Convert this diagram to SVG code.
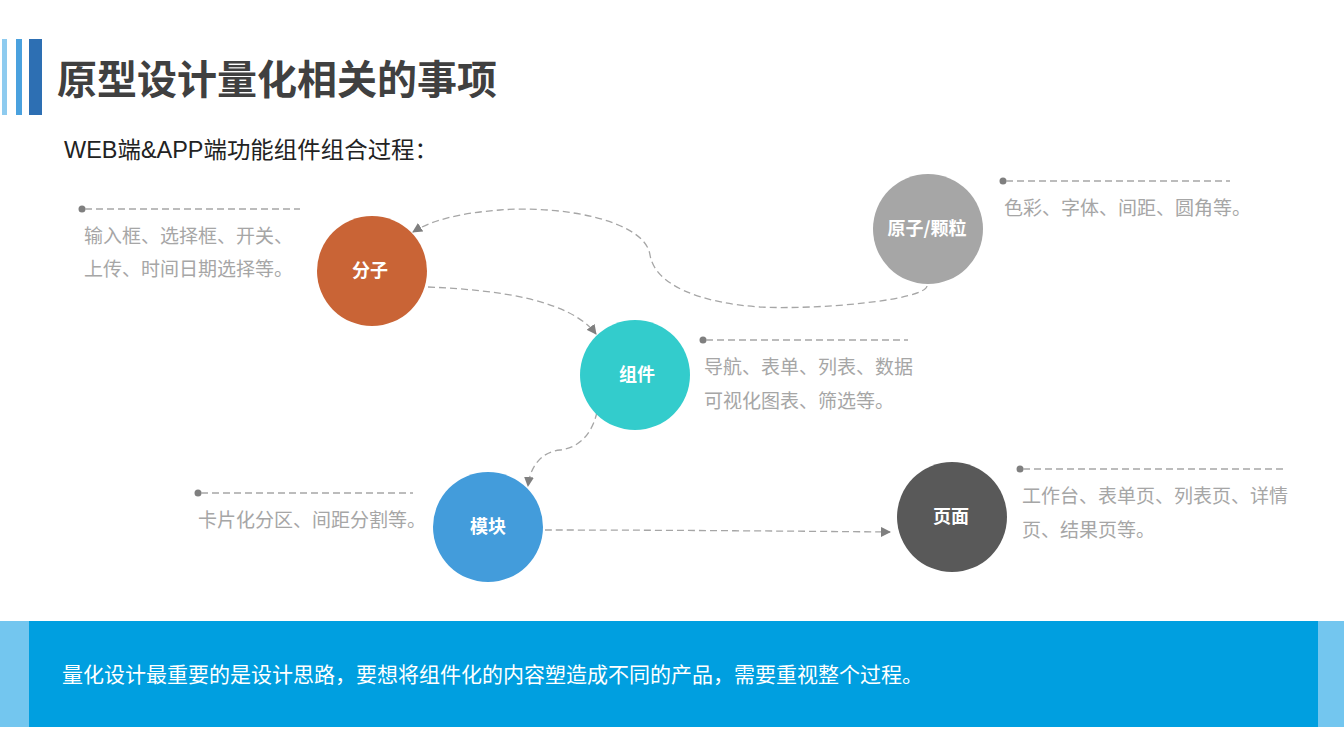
<svg xmlns="http://www.w3.org/2000/svg" width="1344" height="756" viewBox="0 0 1344 756">
<defs>
<marker id="arr" viewBox="0 0 10 10" refX="9" refY="5" markerWidth="10" markerHeight="10" markerUnits="userSpaceOnUse" orient="auto">
<path d="M0,0 L10,5 L0,10 z" fill="#7f7f7f"/>
</marker>
<style>
.cn{font-family:"Noto Sans CJK SC","Liberation Sans",sans-serif;}
.lbl{font-family:"Noto Sans CJK SC",sans-serif;font-size:18px;font-weight:bold;fill:#ffffff;text-anchor:middle;}
.desc{font-family:"Noto Sans CJK SC",sans-serif;font-size:19px;fill:#a6a6a6;}
.lead{stroke:#a6a6a6;stroke-width:1.3;stroke-dasharray:7 4;fill:none;}
.dot{fill:#7f7f7f;}
.conn{stroke:#a6a6a6;stroke-width:1.3;stroke-dasharray:7 4;fill:none;marker-end:url(#arr);}
</style>
</defs>
<rect x="0" y="0" width="1344" height="756" fill="#ffffff"/>
<g id="header">
<rect x="2" y="39" width="5" height="76" fill="#8ecbef"/>
<rect x="16" y="39" width="6" height="76" fill="#4aa1de"/>
<rect x="29" y="39" width="13" height="76" fill="#2d6fb3"/>
<text x="57" y="94" class="cn" font-size="40" font-weight="bold" fill="#404040">原型设计量化相关的事项</text>
<text x="64" y="158" font-family="Liberation Sans,Noto Sans CJK SC,sans-serif" font-size="23" fill="#222222" textLength="374" lengthAdjust="spacingAndGlyphs">WEB端&amp;APP端功能组件组合过程：</text>
</g>
<g id="connectors">
<path class="conn" d="M 927 286 C 925 300, 820 310, 760 307 C 700 303, 655 285, 650 255 C 645 220, 560 205, 500 210 C 460 213, 432 220, 413 232"/>
<path class="conn" d="M 428 287 C 500 290, 570 300, 596 334"/>
<path class="conn" d="M 597 412 C 592 435, 578 448, 560 450 C 540 452, 530 468, 528 486"/>
<path class="conn" d="M 545 530 C 650 530, 780 531, 890 532"/>
</g>
<g id="node-fenzi">
<circle cx="372" cy="271" r="55" fill="#c96436"/>
<text x="370" y="277" class="lbl">分子</text>
<circle cx="82" cy="209" r="3.5" class="dot"/>
<line x1="85" y1="209" x2="300" y2="209" class="lead"/>
<text x="84" y="243" class="desc">输入框、选择框、开关、</text>
<text x="84" y="276" class="desc">上传、时间日期选择等。</text>
</g>
<g id="node-yuanzi">
<circle cx="928" cy="229" r="55" fill="#a6a6a6"/>
<text x="927" y="235" class="lbl">原子/颗粒</text>
<circle cx="1003" cy="181" r="3.5" class="dot"/>
<line x1="1006" y1="181" x2="1230" y2="181" class="lead"/>
<text x="1004" y="215" class="desc">色彩、字体、间距、圆角等。</text>
</g>
<g id="node-zujian">
<circle cx="635" cy="375" r="55" fill="#33cccc"/>
<text x="637" y="381" class="lbl">组件</text>
<circle cx="703" cy="340" r="3.5" class="dot"/>
<line x1="706" y1="340" x2="908" y2="340" class="lead"/>
<text x="704" y="374" class="desc">导航、表单、列表、数据</text>
<text x="704" y="408" class="desc">可视化图表、筛选等。</text>
</g>
<g id="node-mokuai">
<circle cx="488" cy="527" r="55" fill="#439cdb"/>
<text x="488" y="533" class="lbl">模块</text>
<circle cx="198" cy="493" r="3.5" class="dot"/>
<line x1="201" y1="493" x2="413" y2="493" class="lead"/>
<text x="198" y="527" class="desc">卡片化分区、间距分割等。</text>
</g>
<g id="node-yemian">
<circle cx="952" cy="517" r="55" fill="#595959"/>
<text x="951" y="523" class="lbl">页面</text>
<circle cx="1020" cy="469" r="3.5" class="dot"/>
<line x1="1023" y1="469" x2="1284" y2="469" class="lead"/>
<text x="1022" y="503" class="desc">工作台、表单页、列表页、详情</text>
<text x="1022" y="537" class="desc">页、结果页等。</text>
</g>
<g id="footer">
<rect x="0" y="621" width="1344" height="106" fill="#73c6ef"/>
<rect x="29" y="621" width="1289" height="106" fill="#009fe0"/>
<text x="62" y="682" class="cn" font-size="21" fill="#ffffff">量化设计最重要的是设计思路，要想将组件化的内容塑造成不同的产品，需要重视整个过程。</text>
</g>
</svg>
